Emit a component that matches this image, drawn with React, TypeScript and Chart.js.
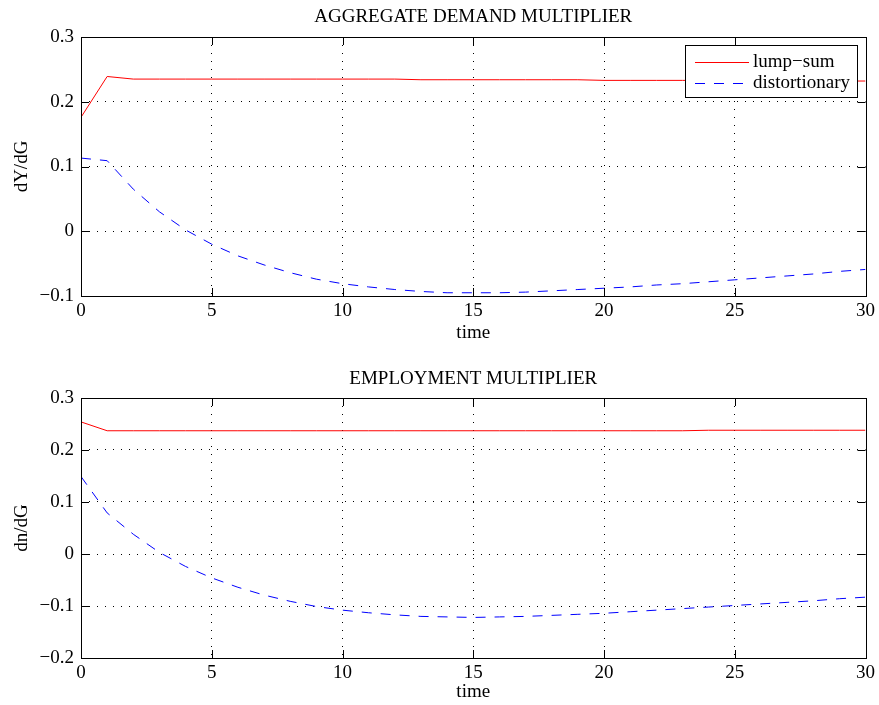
import { useEffect, useRef } from "react";
import { Chart, registerables } from "chart.js";

Chart.register(...registerables);

const FONT = "'Liberation Serif', 'Times New Roman', serif";
const FS = 19;

const time = [0, 1, 2, 3, 4, 5, 6, 7, 8, 9, 10, 11, 12, 13, 14, 15, 16, 17, 18, 19, 20, 21, 22, 23, 24, 25, 26, 27, 28, 29, 30];

const adLumpSum = [0.176, 0.239, 0.235, 0.235, 0.235, 0.235, 0.235, 0.235, 0.235, 0.235, 0.235, 0.235, 0.235, 0.234, 0.234, 0.234, 0.234, 0.234, 0.234, 0.234, 0.233, 0.233, 0.233, 0.233, 0.233, 0.233, 0.233, 0.232, 0.232, 0.232, 0.232];
const adDistortionary = [0.113, 0.109, 0.065, 0.03, 0.002, -0.02, -0.038, -0.052, -0.064, -0.074, -0.081, -0.086, -0.09, -0.093, -0.095, -0.095, -0.095, -0.094, -0.092, -0.09, -0.088, -0.086, -0.083, -0.081, -0.078, -0.075, -0.072, -0.069, -0.066, -0.062, -0.059];

const empLumpSum = [0.254, 0.237, 0.237, 0.237, 0.237, 0.237, 0.237, 0.237, 0.237, 0.237, 0.237, 0.237, 0.237, 0.237, 0.237, 0.237, 0.237, 0.237, 0.237, 0.237, 0.237, 0.237, 0.237, 0.237, 0.238, 0.238, 0.238, 0.238, 0.238, 0.238, 0.238];
const empDistortionary = [0.149, 0.079, 0.038, 0.003, -0.024, -0.046, -0.064, -0.079, -0.091, -0.101, -0.108, -0.113, -0.117, -0.12, -0.121, -0.122, -0.121, -0.12, -0.118, -0.116, -0.114, -0.111, -0.108, -0.105, -0.102, -0.099, -0.096, -0.093, -0.09, -0.086, -0.083];

const xTicks = [0, 5, 10, 15, 20, 25, 30];
const adYTicks = [-0.1, 0, 0.1, 0.2, 0.3];
const empYTicks = [-0.2, -0.1, 0, 0.1, 0.2, 0.3];

const seriesNames = ["lump\u2212sum", "distortionary"];
const RED = "#ff0000";
const BLUE = "#0000ff";
const DASH = [10, 9];

const fmt = (v: number) => (v === 0 ? "0" : v < 0 ? "\u2212" + Math.abs(v).toFixed(1) : v.toFixed(1));

type Cfg = {
  title: string;
  yLabel: string;
  lump: number[];
  dist: number[];
  yTicks: number[];
  width: number;
  height: number;
  area: { top: number; bottom: number; left: number; right: number };
  titleY: number;
  xTitlePad: number;
  legend: boolean;
};

function makeChart(canvas: HTMLCanvasElement, c: Cfg) {
  const yMin = c.yTicks[0];
  const yMax = c.yTicks[c.yTicks.length - 1];
  const framePlugin = {
    id: "frame",
    afterDraw(chart: any) {
      const ctx = chart.ctx;
      const a = chart.chartArea;
      const xs = chart.scales.x;
      const ys = chart.scales.y;
      ctx.save();
      ctx.strokeStyle = "#000";
      ctx.lineWidth = 1;
      ctx.setLineDash([]);
      ctx.strokeRect(Math.round(a.left) + 0.5, Math.round(a.top) + 0.5, Math.round(a.right - a.left), Math.round(a.bottom - a.top));
      const tl = 8;
      ctx.beginPath();
      for (const v of xTicks) {
        const x = Math.round(xs.getPixelForValue(v)) + 0.5;
        ctx.moveTo(x, a.bottom);
        ctx.lineTo(x, a.bottom - tl);
        ctx.moveTo(x, a.top);
        ctx.lineTo(x, a.top + tl);
      }
      for (const v of c.yTicks) {
        const y = Math.round(ys.getPixelForValue(v)) + 0.5;
        ctx.moveTo(a.left, y);
        ctx.lineTo(a.left + tl, y);
        ctx.moveTo(a.right, y);
        ctx.lineTo(a.right - tl, y);
      }
      ctx.stroke();
      // title
      ctx.fillStyle = "#000";
      ctx.font = `${FS}px ${FONT}`;
      ctx.textAlign = "center";
      ctx.textBaseline = "middle";
      ctx.fillText(c.title, (a.left + a.right) / 2, c.titleY);
      if (c.legend) {
        const lx = 685, ly = 45, lw = 172, lh = 52;
        ctx.fillStyle = "#fff";
        ctx.fillRect(lx, ly, lw, lh);
        ctx.strokeStyle = "#000";
        ctx.lineWidth = 1;
        ctx.strokeRect(lx + 0.5, ly + 0.5, lw, lh);
        const rows = [
          { name: seriesNames[0], color: RED, dash: [] as number[], y: 62 },
          { name: seriesNames[1], color: BLUE, dash: DASH, y: 83 },
        ];
        for (const r of rows) {
          ctx.beginPath();
          ctx.strokeStyle = r.color;
          ctx.setLineDash(r.dash);
          ctx.moveTo(695, r.y + 0.5);
          ctx.lineTo(749, r.y + 0.5);
          ctx.stroke();
          ctx.setLineDash([]);
          ctx.fillStyle = "#000";
          ctx.textAlign = "left";
          ctx.textBaseline = "middle";
          ctx.font = `${FS}px ${FONT}`;
          ctx.fillText(r.name, 753, r.y);
        }
      }
      ctx.restore();
    },
  };

  return new Chart(canvas, {
    type: "line",
    data: {
      labels: time,
      datasets: [
        {
          label: seriesNames[0],
          data: time.map((t, i) => ({ x: t, y: c.lump[i] })),
          borderColor: RED,
          borderWidth: 1,
          pointRadius: 0,
          tension: 0,
          fill: false,
        },
        {
          label: seriesNames[1],
          data: time.map((t, i) => ({ x: t, y: c.dist[i] })),
          borderColor: BLUE,
          borderWidth: 1,
          borderDash: DASH,
          pointRadius: 0,
          tension: 0,
          fill: false,
        },
      ],
    },
    options: {
      animation: false,
      responsive: false,
      devicePixelRatio: 1,
      layout: {
        padding: { top: c.area.top, right: c.width - c.area.right, bottom: 0, left: 0 },
      },
      plugins: {
        legend: { display: false },
        title: { display: false },
        tooltip: { enabled: false },
      },
      scales: {
        x: {
          type: "linear",
          min: 0,
          max: 30,
          afterBuildTicks: (s: any) => {
            s.ticks = xTicks.map((v) => ({ value: v }));
          },
          afterFit: (s: any) => {
            s.height = c.height - c.area.bottom;
          },
          ticks: {
            color: "#000",
            font: { family: FONT, size: FS },
            padding: 4,
            maxRotation: 0,
            callback: (v: any) => String(v),
          },
          grid: {
            drawTicks: false,
            lineWidth: 1,
            color: (ctx: any) =>
              ctx.tick && (ctx.tick.value === 0 || ctx.tick.value === 30) ? "rgba(0,0,0,0)" : "#000",
          },
          border: { display: false, dash: [1, 7] },
          title: {
            display: true,
            text: "time",
            color: "#000",
            font: { family: FONT, size: FS },
            padding: { top: 0, bottom: c.xTitlePad },
          },
        },
        y: {
          type: "linear",
          min: yMin,
          max: yMax,
          afterBuildTicks: (s: any) => {
            s.ticks = c.yTicks.map((v) => ({ value: v }));
          },
          afterFit: (s: any) => {
            s.width = c.area.left;
          },
          ticks: {
            color: "#000",
            font: { family: FONT, size: FS },
            padding: 7,
            callback: (v: any) => fmt(Number(v)),
          },
          grid: {
            drawTicks: false,
            lineWidth: 1,
            color: (ctx: any) =>
              ctx.tick && (Math.abs(ctx.tick.value - yMin) < 1e-9 || Math.abs(ctx.tick.value - yMax) < 1e-9)
                ? "rgba(0,0,0,0)"
                : "#000",
          },
          border: { display: false, dash: [1, 7] },
          title: {
            display: true,
            text: c.yLabel,
            color: "#000",
            font: { family: FONT, size: FS },
            padding: { top: 11, bottom: 0 },
          },
        },
      },
    },
    plugins: [framePlugin],
  } as any);
}

export default function App() {
  const topRef = useRef<HTMLCanvasElement>(null);
  const botRef = useRef<HTMLCanvasElement>(null);

  useEffect(() => {
    const c1 = makeChart(topRef.current!, {
      title: "AGGREGATE DEMAND MULTIPLIER",
      yLabel: "dY/dG",
      lump: adLumpSum,
      dist: adDistortionary,
      yTicks: adYTicks,
      width: 879,
      height: 350,
      area: { top: 37, bottom: 296, left: 81, right: 866 },
      titleY: 17,
      xTitlePad: 6,
      legend: true,
    });
    const c2 = makeChart(botRef.current!, {
      title: "EMPLOYMENT MULTIPLIER",
      yLabel: "dn/dG",
      lump: empLumpSum,
      dist: empDistortionary,
      yTicks: empYTicks,
      width: 879,
      height: 355,
      area: { top: 48, bottom: 308, left: 81, right: 866 },
      titleY: 29,
      xTitlePad: 2,
      legend: false,
    });
    return () => {
      c1.destroy();
      c2.destroy();
    };
  }, []);

  return (
    <div>
      <canvas
        ref={topRef}
        width={879}
        height={350}
        style={{ position: "absolute", left: 0, top: 0, width: 879, height: 350, background: "#fff" }}
      />
      <canvas
        ref={botRef}
        width={879}
        height={355}
        style={{ position: "absolute", left: 0, top: 350, width: 879, height: 355, background: "#fff" }}
      />
    </div>
  );
}
